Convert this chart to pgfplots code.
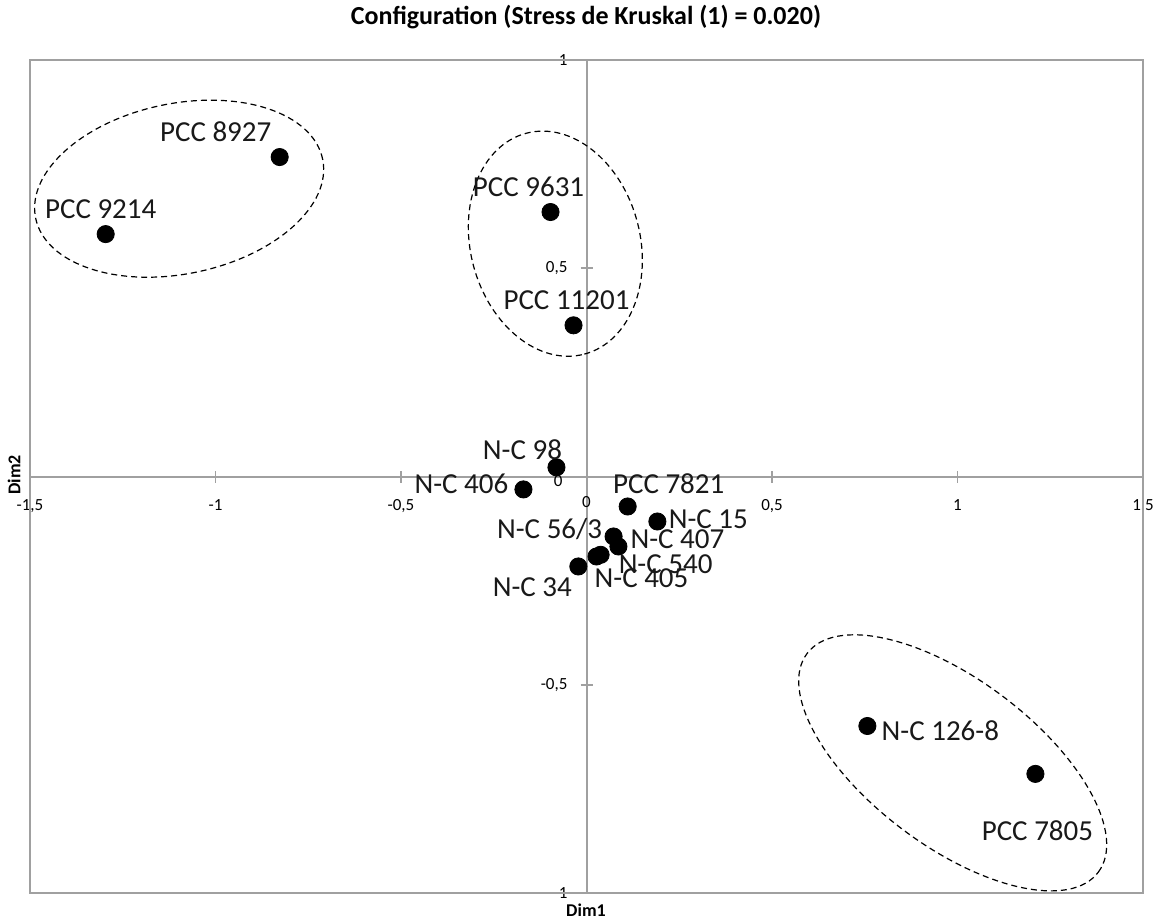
\documentclass[border=0pt]{standalone}
\usepackage{fontspec}
\setmainfont{Carlito}
\usepackage{pgfplots}
\pgfplotsset{compat=1.18}
\usepackage{pgfplotstable}
\usetikzlibrary{shapes.geometric}
\definecolor{axgray}{RGB}{160,160,160}

\pgfplotstableread[col sep=comma]{
name,x,y,dx,dy
PCC 8927,-0.827,0.767,-32,12.5
PCC 9214,-1.296,0.582,-2.5,12.5
PCC 9631,-0.097,0.635,-11,12.5
PCC 11201,-0.035,0.363,-3.5,12.5
N-C 98,-0.081,0.022,-17,9
N-C 406,-0.170,-0.031,-31,3
PCC 7821,0.111,-0.072,20.5,11.5
N-C 15,0.191,-0.108,25.5,1
N-C 56/3,0.073,-0.144,-32,3.5
N-C 407,0.086,-0.168,29.5,3.5
N-C 540,0.038,-0.188,32.5,-4.5
N-C 405,0.027,-0.192,22.5,-11
N-C 34,-0.022,-0.216,-23,-10.5
N-C 126-8,0.757,-0.599,36.5,-2.5
PCC 7805,1.210,-0.714,1,-28.5
}\pts

\begin{document}
\begin{tikzpicture}
\begin{axis}[
  at={(0,0)}, anchor=south west,
  scale only axis, width=556.5pt, height=416.5pt,
  xmin=-1.5, xmax=1.5, ymin=-1, ymax=1,
  axis lines=middle,
  axis line style={axgray, line width=1pt, -},
  xtick={-1.5,-1,-0.5,0,0.5,1,1.5},
  ytick={-1,-0.5,0,0.5,1},
  tick style={axgray, line width=0.8pt},
  tick align=center, major tick length=6pt,
  /pgf/number format/use comma,
  /pgf/number format/assume math mode=true,
  ticklabel style={font=\fontsize{8.5}{9}\selectfont, text=black},
  xticklabel style={yshift=-5pt},
  yticklabel style={xshift=-3pt},
  clip=false,
]
\draw[axgray, line width=1pt] (rel axis cs:0,0) rectangle (rel axis cs:1,1);

\node[font=\fontsize{8.5}{9}\selectfont, anchor=east] at (axis cs:0,0) [xshift=-8.5pt, yshift=-2.5pt] {0};
\node[font=\fontsize{8.5}{9}\selectfont] at (axis cs:0,0) [yshift=-13pt] {0};

\node[draw=black, dash pattern=on 3pt off 2pt, line width=0.6pt, ellipse,
  minimum width=146.5pt, minimum height=85.2pt, inner sep=0pt, rotate=11.6]
  at (axis cs:-1.098,0.691) {};
\node[draw=black, dash pattern=on 3pt off 2pt, line width=0.6pt, ellipse,
  minimum width=114.2pt, minimum height=84.8pt, inner sep=0pt, rotate=-75.3]
  at (axis cs:-0.084,0.559) {};
\node[draw=black, dash pattern=on 3pt off 2pt, line width=0.6pt, ellipse,
  minimum width=182.1pt, minimum height=83.3pt, inner sep=0pt, rotate=-36.9]
  at (axis cs:0.987,-0.6875) {};

\addplot[only marks, mark=*, mark size=4.3pt, black,
  nodes near coords, point meta=explicit symbolic,
  visualization depends on={\thisrow{dx}\as\dx},
  visualization depends on={\thisrow{dy}\as\dy},
  every node near coord/.append style={anchor=center, xshift=\dx pt, yshift=\dy pt,
    font=\fontsize{14.5}{16}\selectfont, text=black!90}]
  table[x=x, y=y, meta=name] {\pts};
\end{axis}
\node[font=\bfseries\fontsize{13}{15}\selectfont] at (278pt,438pt) {Configuration (Stress de Kruskal (1) = 0.020)};
\node[font=\bfseries\fontsize{9}{10}\selectfont] at (278pt,-8.5pt) {Dim1};
\node[font=\bfseries\fontsize{9}{10}\selectfont, rotate=90] at (-8pt,209pt) {Dim2};
\pgfresetboundingbox
\path (-15pt,-14.5pt) rectangle (562.5pt,446.5pt);
\end{tikzpicture}
\end{document}
